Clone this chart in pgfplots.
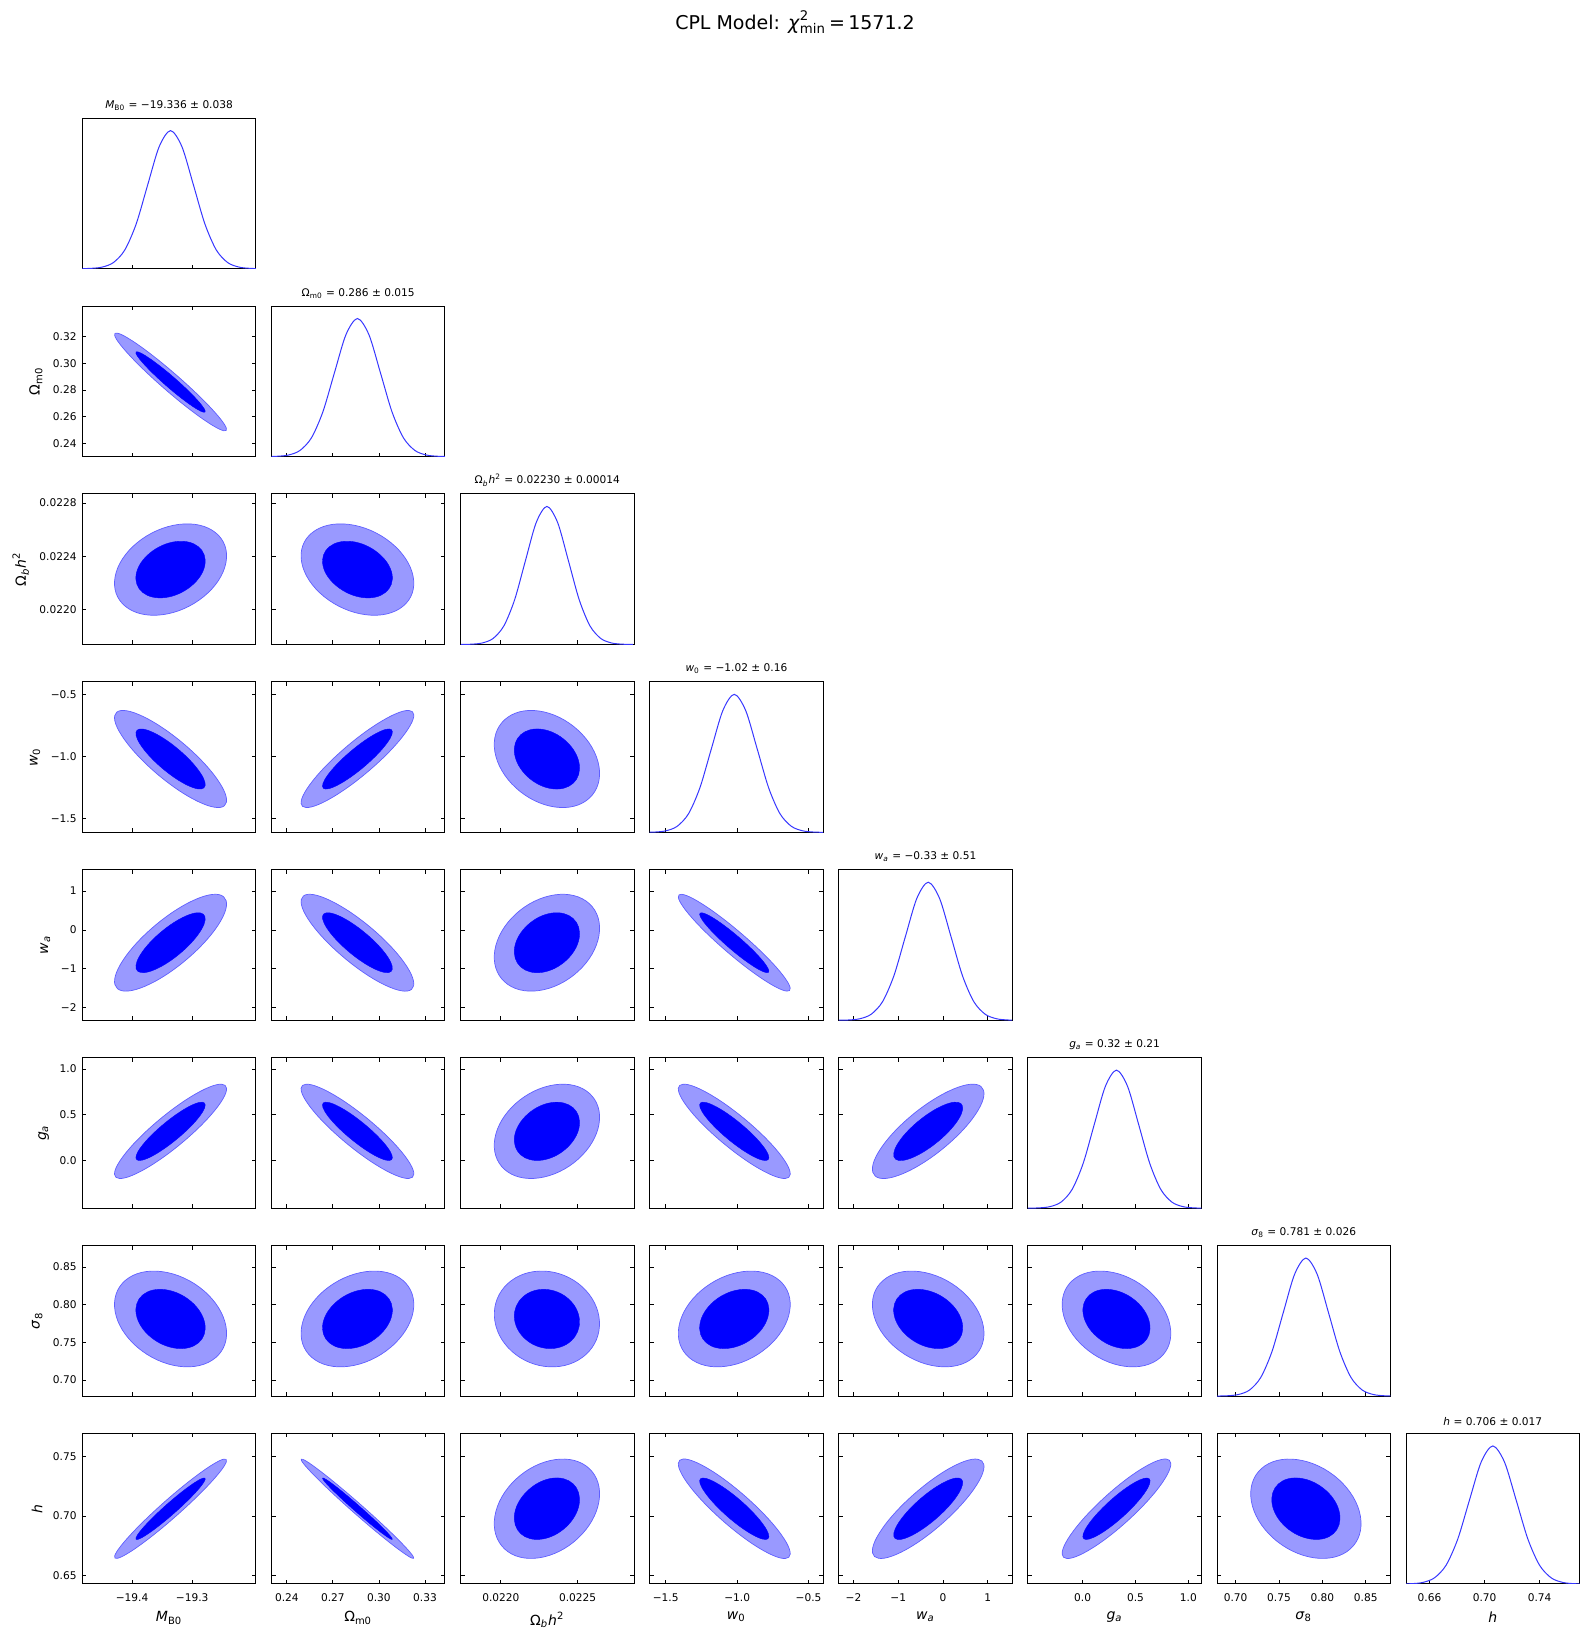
\documentclass[border=0pt]{standalone}
\usepackage{fontspec}
\setmainfont{DejaVu Sans}
\usepackage{pgfplots}
\pgfplotsset{compat=1.18}

\definecolor{outerfill}{RGB}{153,153,255}
\definecolor{outeredge}{RGB}{95,95,255}
\definecolor{innerfill}{RGB}{0,0,255}
\definecolor{curve}{RGB}{55,55,255}

\newcommand\ticksize{\fontsize{5.3}{6.2}\selectfont}
\newcommand\labsize{\fontsize{7}{8}\selectfont}
% parameter names
\newcommand\lM{\textit{M}\textsubscript{B0}}
\newcommand\lOm{Ω\textsubscript{m0}}
\newcommand\lOb{Ω\textsubscript{\textit{b}}\textit{h}\textsuperscript{2}}
\newcommand\lwo{\textit{w}\textsubscript{0}}
\newcommand\lwa{\textit{w}\textsubscript{\textit{a}}}
\newcommand\lga{\textit{g}\textsubscript{\textit{a}}}
\newcommand\lse{\textit{σ}\textsubscript{8}}
\newcommand\lh{\textit{h}}

\pgfplotsset{
  panel/.style={
    scale only axis, width=86.7pt, height=75.25pt, anchor=north west,
    axis line style={line width=0.5pt},
    tick align=inside, major tick length=2pt,
    tick style={black, line width=0.4pt},
    scaled ticks=false,
    xticklabels={}, yticklabels={},
    tick label style={font=\ticksize},
    xticklabel style={yshift=-1.4pt},
    yticklabel style={xshift=0.6pt},
    label style={font=\labsize},
    ylabel shift=-1.6pt, xlabel shift=-2pt,
    title style={font=\ticksize, at={(0.5,1)}, anchor=south, yshift=-5.6pt},
  },
  diag/.style={panel, ymin=0, ymax=1.09, ytick=\empty, xtick pos=left},
  outer/.style={fill=outerfill, draw=outeredge, line width=0.35pt, smooth cycle, tension=0.68},
  inner/.style={fill=innerfill, draw=innerfill, line width=0.2pt, smooth cycle, tension=0.68},
  pdf/.style={draw=curve, line width=0.5pt, smooth},
  % axis ranges per parameter
  xM/.style={xmin=-19.4824, xmax=-19.1944, xtick={-19.4,-19.3}},
  xOm/.style={xmin=0.2300, xmax=0.3430, xtick={0.24,0.27,0.30,0.33}},
  xOb/.style={xmin=0.021738, xmax=0.022867, xtick={0.0220,0.0225}},
  xwo/.style={xmin=-1.612, xmax=-0.398, xtick={-1.5,-1.0,-0.5}},
  xwa/.style={xmin=-2.33, xmax=1.55, xtick={-2,-1,0,1}},
  xga/.style={xmin=-0.518, xmax=1.123, xtick={0,0.5,1}},
  xse/.style={xmin=0.6785, xmax=0.8785, xtick={0.70,0.75,0.80,0.85}},
  xh/.style={xmin=0.643, xmax=0.769, xtick={0.66,0.70,0.74}},
  yOm/.style={ymin=0.2300, ymax=0.3430, ytick={0.24,0.26,0.28,0.30,0.32}},
  yOb/.style={ymin=0.021738, ymax=0.022867, ytick={0.0220,0.0224,0.0228}},
  ywo/.style={ymin=-1.612, ymax=-0.398, ytick={-1.5,-1.0,-0.5}},
  ywa/.style={ymin=-2.33, ymax=1.55, ytick={-2,-1,0,1}},
  yga/.style={ymin=-0.518, ymax=1.123, ytick={0,0.5,1}},
  yse/.style={ymin=0.6785, ymax=0.8785, ytick={0.70,0.75,0.80,0.85}},
  yh/.style={ymin=0.643, ymax=0.769, ytick={0.65,0.70,0.75}},
  % labels on the outer edges
  bM/.style={xticklabels={−19.4,−19.3}, xlabel={\lM}},
  bOm/.style={xticklabels={0.24,0.27,0.30,0.33}, xlabel={\lOm}},
  bOb/.style={xticklabels={0.0220,0.0225}, xlabel={\lOb}},
  bwo/.style={xticklabels={−1.5,−1.0,−0.5}, xlabel={\lwo}},
  bwa/.style={xticklabels={−2,−1,0,1}, xlabel={\lwa}},
  bga/.style={xticklabels={0.0,0.5,1.0}, xlabel={\lga}},
  bse/.style={xticklabels={0.70,0.75,0.80,0.85}, xlabel={\lse}},
  bh/.style={xticklabels={0.66,0.70,0.74}, xlabel={\lh}},
  lOm/.style={yticklabels={0.24,0.26,0.28,0.30,0.32}, ylabel={\lOm}},
  lOb/.style={yticklabels={0.0220,0.0224,0.0228}, ylabel={\lOb}},
  lwo/.style={yticklabels={−1.5,−1.0,−0.5}, ylabel={\lwo}},
  lwa/.style={yticklabels={−2,−1,0,1}, ylabel={\lwa}},
  lga/.style={yticklabels={0.0,0.5,1.0}, ylabel={\lga}},
  lse/.style={yticklabels={0.70,0.75,0.80,0.85}, ylabel={\lse}},
  lh/.style={yticklabels={0.65,0.70,0.75}, ylabel={\lh}},
}

\begin{document}
\begin{tikzpicture}
\useasboundingbox (0,0) rectangle (795pt,818.5pt);
\node[font=\fontsize{9.5}{11}\selectfont] at (397.5pt,807.5pt)
  {CPL Model: \textit{χ}\rlap{\raisebox{0.5pt}{\textsuperscript{2}}}\textsubscript{min}\,=\,1571.2};

% ---------------- row 1
\begin{axis}[diag, at={(41.2pt,759.4pt)}, xM, title={\lM\ = −19.336 ± 0.038}]
\addplot[pdf] coordinates {(-19.488,0.0003) (-19.469,0.0022) (-19.450,0.0111) (-19.431,0.0439) (-19.412,0.1353) (-19.393,0.3247) (-19.374,0.6065) (-19.355,0.8825) (-19.336,1) (-19.317,0.8825) (-19.298,0.6065) (-19.279,0.3247) (-19.260,0.1353) (-19.241,0.0439) (-19.222,0.0111) (-19.203,0.0022) (-19.184,0.0003)};
\end{axis}

% ---------------- row 2
\begin{axis}[panel, at={(41.2pt,665.45pt)}, xM, yOm, lOm]
\addplot[outer] coordinates {(-19.2437,0.2496) (-19.2627,0.2634) (-19.3246,0.2905) (-19.3932,0.3150) (-19.4283,0.3225) (-19.4093,0.3086) (-19.3474,0.2815) (-19.2788,0.2571)};
\addplot[inner] coordinates {(-19.2788,0.2634) (-19.2906,0.2720) (-19.3289,0.2888) (-19.3714,0.3039) (-19.3932,0.3086) (-19.3814,0.3000) (-19.3431,0.2832) (-19.3006,0.2681)};
\end{axis}
\begin{axis}[diag, at={(135.75pt,665.45pt)}, xOm, title={\lOm\ = 0.286 ± 0.015}]
\addplot[pdf] coordinates {(0.226,0.0003) (0.2335,0.0022) (0.241,0.0111) (0.2485,0.0439) (0.256,0.1353) (0.2635,0.3247) (0.271,0.6065) (0.2785,0.8825) (0.286,1) (0.2935,0.8825) (0.301,0.6065) (0.3085,0.3247) (0.316,0.1353) (0.3235,0.0439) (0.331,0.0111) (0.3385,0.0022) (0.346,0.0003)};
\end{axis}

% ---------------- row 3
\begin{axis}[panel, at={(41.2pt,571.5pt)}, xM, yOb, lOb]
\addplot[outer] coordinates {(-19.2610,0.022576) (-19.2440,0.022352) (-19.2810,0.022097) (-19.3501,0.021961) (-19.4110,0.022024) (-19.4280,0.022248) (-19.3910,0.022503) (-19.3219,0.022639)};
\addplot[inner] coordinates {(-19.2896,0.022471) (-19.2791,0.022332) (-19.3020,0.022175) (-19.3447,0.022090) (-19.3824,0.022129) (-19.3929,0.022268) (-19.3700,0.022425) (-19.3273,0.022510)};
\end{axis}
\begin{axis}[panel, at={(135.75pt,571.5pt)}, xOm, yOb]
\addplot[outer] coordinates {(0.3156,0.022024) (0.3223,0.022248) (0.3077,0.022503) (0.2804,0.022639) (0.2564,0.022576) (0.2497,0.022352) (0.2643,0.022097) (0.2916,0.021961)};
\addplot[inner] coordinates {(0.3043,0.022129) (0.3085,0.022268) (0.2994,0.022425) (0.2826,0.022510) (0.2677,0.022471) (0.2635,0.022332) (0.2726,0.022175) (0.2895,0.022090)};
\end{axis}
\begin{axis}[diag, at={(230.3pt,571.5pt)}, xOb, title={\lOb\ = 0.02230 ± 0.00014}]
\addplot[pdf] coordinates {(0.02174,0.0003) (0.02181,0.0022) (0.02188,0.0111) (0.02195,0.0439) (0.02202,0.1353) (0.02209,0.3247) (0.02216,0.6065) (0.02223,0.8825) (0.02230,1) (0.02237,0.8825) (0.02244,0.6065) (0.02251,0.3247) (0.02258,0.1353) (0.02265,0.0439) (0.02272,0.0111) (0.02279,0.0022) (0.02286,0.0003)};
\end{axis}

% ---------------- row 4
\begin{axis}[panel, at={(41.2pt,477.55pt)}, xM, ywo, lwo]
\addplot[outer] coordinates {(-19.2465,-1.3966) (-19.2547,-1.2106) (-19.3105,-0.9128) (-19.3813,-0.6778) (-19.4255,-0.6434) (-19.4173,-0.8294) (-19.3615,-1.1272) (-19.2907,-1.3622)};
\addplot[inner] coordinates {(-19.2806,-1.2531) (-19.2857,-1.1379) (-19.3202,-0.9536) (-19.3640,-0.8082) (-19.3914,-0.7869) (-19.3863,-0.9021) (-19.3518,-1.0864) (-19.3080,-1.2318)};
\end{axis}
\begin{axis}[panel, at={(135.75pt,477.55pt)}, xOm, ywo]
\addplot[outer] coordinates {(0.3218,-0.6382) (0.3171,-0.8120) (0.2942,-1.1075) (0.2665,-1.3518) (0.2502,-1.4018) (0.2549,-1.2280) (0.2778,-0.9325) (0.3055,-0.6882)};
\addplot[inner] coordinates {(0.3082,-0.7837) (0.3053,-0.8912) (0.2911,-1.0742) (0.2739,-1.2254) (0.2638,-1.2563) (0.2667,-1.1488) (0.2809,-0.9658) (0.2981,-0.8146)};
\end{axis}
\begin{axis}[panel, at={(230.3pt,477.55pt)}, xOb, ywo]
\addplot[outer] coordinates {(0.022576,-1.3358) (0.022639,-1.0795) (0.022503,-0.7883) (0.022248,-0.6328) (0.022024,-0.7042) (0.021961,-0.9605) (0.022097,-1.2517) (0.022352,-1.4072)};
\addplot[inner] coordinates {(0.022471,-1.2154) (0.022510,-1.0568) (0.022425,-0.8766) (0.022268,-0.7805) (0.022129,-0.8246) (0.022090,-0.9832) (0.022175,-1.1634) (0.022332,-1.2595)};
\end{axis}
\begin{axis}[diag, at={(324.85pt,477.55pt)}, xwo, title={\lwo\ = −1.02 ± 0.16}]
\addplot[pdf] coordinates {(-1.66,0.0003) (-1.58,0.0022) (-1.50,0.0111) (-1.42,0.0439) (-1.34,0.1353) (-1.26,0.3247) (-1.18,0.6065) (-1.10,0.8825) (-1.02,1) (-0.94,0.8825) (-0.86,0.6065) (-0.78,0.3247) (-0.70,0.1353) (-0.62,0.0439) (-0.54,0.0111) (-0.46,0.0022) (-0.38,0.0003)};
\end{axis}

% ---------------- row 5
\begin{axis}[panel, at={(41.2pt,383.6pt)}, xM, ywa, lwa]
\addplot[outer] coordinates {(-19.2478,0.854) (-19.2528,0.229) (-19.3066,-0.725) (-19.3776,-1.447) (-19.4242,-1.514) (-19.4192,-0.889) (-19.3654,0.065) (-19.2944,0.787)};
\addplot[inner] coordinates {(-19.2814,0.403) (-19.2845,0.016) (-19.3178,-0.574) (-19.3618,-1.021) (-19.3906,-1.063) (-19.3875,-0.676) (-19.3542,-0.086) (-19.3102,0.361)};
\end{axis}
\begin{axis}[panel, at={(135.75pt,383.6pt)}, xOm, ywa]
\addplot[outer] coordinates {(0.3213,-1.531) (0.3181,-0.937) (0.2961,0.012) (0.2681,0.761) (0.2507,0.871) (0.2539,0.277) (0.2760,-0.672) (0.3039,-1.421)};
\addplot[inner] coordinates {(0.3079,-1.073) (0.3059,-0.706) (0.2922,-0.118) (0.2749,0.345) (0.2641,0.413) (0.2661,0.046) (0.2798,-0.542) (0.2971,-1.005)};
\end{axis}
\begin{axis}[panel, at={(230.3pt,383.6pt)}, xOb, ywa]
\addplot[outer] coordinates {(0.022576,0.677) (0.022639,-0.140) (0.022503,-1.069) (0.022248,-1.564) (0.022024,-1.337) (0.021961,-0.520) (0.022097,0.409) (0.022352,0.904)};
\addplot[inner] coordinates {(0.022471,0.293) (0.022510,-0.213) (0.022425,-0.787) (0.022268,-1.094) (0.022129,-0.953) (0.022090,-0.447) (0.022175,0.127) (0.022332,0.434)};
\end{axis}
\begin{axis}[panel, at={(324.85pt,383.6pt)}, xwo, ywa]
\addplot[outer] coordinates {(-0.6333,-1.563) (-0.7027,-1.062) (-0.9581,-0.133) (-1.2498,0.681) (-1.4067,0.903) (-1.3373,0.402) (-1.0819,-0.527) (-0.7902,-1.341)};
\addplot[inner] coordinates {(-0.7806,-1.093) (-0.8237,-0.783) (-0.9816,-0.208) (-1.1621,0.296) (-1.2594,0.433) (-1.2163,0.123) (-1.0584,-0.452) (-0.8779,-0.956)};
\end{axis}
\begin{axis}[diag, at={(419.4pt,383.6pt)}, xwa, title={\lwa\ = −0.33 ± 0.51}]
\addplot[pdf] coordinates {(-2.37,0.0003) (-2.115,0.0022) (-1.86,0.0111) (-1.605,0.0439) (-1.35,0.1353) (-1.095,0.3247) (-0.84,0.6065) (-0.585,0.8825) (-0.33,1) (-0.075,0.8825) (0.18,0.6065) (0.435,0.3247) (0.69,0.1353) (0.945,0.0439) (1.20,0.0111) (1.455,0.0022) (1.71,0.0003)};
\end{axis}

% ---------------- row 6
\begin{axis}[panel, at={(41.2pt,289.65pt)}, xM, yga, lga]
\addplot[outer] coordinates {(-19.2453,0.821) (-19.2572,0.593) (-19.3152,0.205) (-19.3854,-0.116) (-19.4267,-0.181) (-19.4148,0.047) (-19.3568,0.435) (-19.2866,0.756)};
\addplot[inner] coordinates {(-19.2799,0.630) (-19.2872,0.489) (-19.3231,0.249) (-19.3666,0.050) (-19.3921,0.010) (-19.3848,0.151) (-19.3489,0.391) (-19.3054,0.590)};
\end{axis}
\begin{axis}[panel, at={(135.75pt,289.65pt)}, xOm, yga]
\addplot[outer] coordinates {(0.3218,-0.181) (0.3171,0.047) (0.2942,0.435) (0.2665,0.756) (0.2502,0.821) (0.2549,0.593) (0.2778,0.205) (0.3055,-0.116)};
\addplot[inner] coordinates {(0.3082,0.010) (0.3053,0.151) (0.2911,0.391) (0.2739,0.590) (0.2638,0.630) (0.2667,0.489) (0.2809,0.249) (0.2981,0.050)};
\end{axis}
\begin{axis}[panel, at={(230.3pt,289.65pt)}, xOb, yga]
\addplot[outer] coordinates {(0.022576,0.735) (0.022639,0.398) (0.022503,0.016) (0.022248,-0.188) (0.022024,-0.095) (0.021961,0.242) (0.022097,0.624) (0.022352,0.828)};
\addplot[inner] coordinates {(0.022471,0.576) (0.022510,0.368) (0.022425,0.132) (0.022268,0.006) (0.022129,0.064) (0.022090,0.272) (0.022175,0.508) (0.022332,0.634)};
\end{axis}
\begin{axis}[panel, at={(324.85pt,289.65pt)}, xwo, yga]
\addplot[outer] coordinates {(-0.6382,-0.181) (-0.6882,0.047) (-0.9325,0.435) (-1.2280,0.756) (-1.4018,0.821) (-1.3518,0.593) (-1.1075,0.205) (-0.8120,-0.116)};
\addplot[inner] coordinates {(-0.7837,0.010) (-0.8146,0.151) (-0.9658,0.391) (-1.1488,0.590) (-1.2563,0.630) (-1.2254,0.489) (-1.0742,0.249) (-0.8912,0.050)};
\end{axis}
\begin{axis}[panel, at={(419.4pt,289.65pt)}, xwa, yga]
\addplot[outer] coordinates {(0.854,0.808) (0.787,0.550) (0.065,0.158) (-0.889,-0.140) (-1.514,-0.168) (-1.447,0.090) (-0.725,0.483) (0.229,0.780)};
\addplot[inner] coordinates {(0.403,0.622) (0.361,0.462) (-0.086,0.219) (-0.676,0.035) (-1.063,0.018) (-1.021,0.178) (-0.574,0.421) (0.016,0.605)};
\end{axis}
\begin{axis}[diag, at={(513.95pt,289.65pt)}, xga, title={\lga\ = 0.32 ± 0.21}]
\addplot[pdf] coordinates {(-0.52,0.0003) (-0.415,0.0022) (-0.31,0.0111) (-0.205,0.0439) (-0.10,0.1353) (0.005,0.3247) (0.11,0.6065) (0.215,0.8825) (0.32,1) (0.425,0.8825) (0.53,0.6065) (0.635,0.3247) (0.74,0.1353) (0.845,0.0439) (0.95,0.0111) (1.055,0.0022) (1.16,0.0003)};
\end{axis}

% ---------------- row 7
\begin{axis}[panel, at={(41.2pt,195.7pt)}, xM, yse, lse]
\addplot[outer] coordinates {(-19.2610,0.7297) (-19.2440,0.7713) (-19.2810,0.8187) (-19.3501,0.8439) (-19.4110,0.8323) (-19.4280,0.7907) (-19.3910,0.7434) (-19.3219,0.7181)};
\addplot[inner] coordinates {(-19.2896,0.7493) (-19.2791,0.7750) (-19.3020,0.8043) (-19.3447,0.8199) (-19.3824,0.8128) (-19.3929,0.7870) (-19.3700,0.7577) (-19.3273,0.7421)};
\end{axis}
\begin{axis}[panel, at={(135.75pt,195.7pt)}, xOm, yse]
\addplot[outer] coordinates {(0.3156,0.8323) (0.3223,0.7907) (0.3077,0.7434) (0.2804,0.7181) (0.2564,0.7297) (0.2497,0.7713) (0.2643,0.8187) (0.2916,0.8439)};
\addplot[inner] coordinates {(0.3043,0.8128) (0.3085,0.7870) (0.2994,0.7577) (0.2826,0.7421) (0.2677,0.7493) (0.2635,0.7750) (0.2726,0.8043) (0.2895,0.8199)};
\end{axis}
\begin{axis}[panel, at={(230.3pt,195.7pt)}, xOb, yse]
\addplot[outer] coordinates {(0.022554,0.7338) (0.022642,0.7778) (0.022530,0.8237) (0.022283,0.8446) (0.022046,0.8282) (0.021958,0.7842) (0.022070,0.7383) (0.022317,0.7174)};
\addplot[inner] coordinates {(0.022457,0.7518) (0.022512,0.7790) (0.022442,0.8074) (0.022289,0.8203) (0.022143,0.8102) (0.022088,0.7830) (0.022158,0.7546) (0.022311,0.7417)};
\end{axis}
\begin{axis}[panel, at={(324.85pt,195.7pt)}, xwo, yse]
\addplot[outer] coordinates {(-0.7042,0.8323) (-0.6328,0.7907) (-0.7883,0.7434) (-1.0795,0.7181) (-1.3358,0.7297) (-1.4072,0.7713) (-1.2517,0.8187) (-0.9605,0.8439)};
\addplot[inner] coordinates {(-0.8246,0.8128) (-0.7805,0.7870) (-0.8766,0.7577) (-1.0568,0.7421) (-1.2154,0.7493) (-1.2595,0.7750) (-1.1634,0.8043) (-0.9832,0.8199)};
\end{axis}
\begin{axis}[panel, at={(419.4pt,195.7pt)}, xwa, yse]
\addplot[outer] coordinates {(0.677,0.7297) (0.904,0.7713) (0.409,0.8187) (-0.520,0.8439) (-1.337,0.8323) (-1.564,0.7907) (-1.069,0.7434) (-0.140,0.7181)};
\addplot[inner] coordinates {(0.293,0.7493) (0.434,0.7750) (0.127,0.8043) (-0.447,0.8199) (-0.953,0.8128) (-1.094,0.7870) (-0.787,0.7577) (-0.213,0.7421)};
\end{axis}
\begin{axis}[panel, at={(513.95pt,195.7pt)}, xga, yse]
\addplot[outer] coordinates {(0.735,0.7297) (0.828,0.7713) (0.624,0.8187) (0.242,0.8439) (-0.095,0.8323) (-0.188,0.7907) (0.016,0.7434) (0.398,0.7181)};
\addplot[inner] coordinates {(0.576,0.7493) (0.634,0.7750) (0.508,0.8043) (0.272,0.8199) (0.064,0.8128) (0.006,0.7870) (0.132,0.7577) (0.368,0.7421)};
\end{axis}
\begin{axis}[diag, at={(608.5pt,195.7pt)}, xse, title={\lse\ = 0.781 ± 0.026}]
\addplot[pdf] coordinates {(0.677,0.0003) (0.690,0.0022) (0.703,0.0111) (0.716,0.0439) (0.729,0.1353) (0.742,0.3247) (0.755,0.6065) (0.768,0.8825) (0.781,1) (0.794,0.8825) (0.807,0.6065) (0.820,0.3247) (0.833,0.1353) (0.846,0.0439) (0.859,0.0111) (0.872,0.0022) (0.885,0.0003)};
\end{axis}

% ---------------- row 8
\begin{axis}[panel, at={(41.2pt,101.75pt)}, xM, yh, lh, bM]
\addplot[outer] coordinates {(-19.2437,0.7473) (-19.2627,0.7316) (-19.3246,0.7009) (-19.3932,0.6732) (-19.4283,0.6647) (-19.4093,0.6804) (-19.3474,0.7111) (-19.2788,0.7388)};
\addplot[inner] coordinates {(-19.2788,0.7316) (-19.2906,0.7218) (-19.3289,0.7028) (-19.3714,0.6857) (-19.3932,0.6804) (-19.3814,0.6902) (-19.3431,0.7092) (-19.3006,0.7263)};
\end{axis}
\begin{axis}[panel, at={(135.75pt,101.75pt)}, xOm, yh, bOm]
\addplot[outer] coordinates {(0.3226,0.6645) (0.3137,0.6787) (0.2886,0.7089) (0.2619,0.7374) (0.2494,0.7475) (0.2583,0.7333) (0.2834,0.7031) (0.3101,0.6746)};
\addplot[inner] coordinates {(0.3087,0.6803) (0.3032,0.6891) (0.2876,0.7078) (0.2711,0.7255) (0.2633,0.7317) (0.2688,0.7229) (0.2844,0.7042) (0.3009,0.6866)};
\end{axis}
\begin{axis}[panel, at={(230.3pt,101.75pt)}, xOb, yh, bOb]
\addplot[outer] coordinates {(0.022576,0.7396) (0.022639,0.7123) (0.022503,0.6814) (0.022248,0.6649) (0.022024,0.6724) (0.021961,0.6997) (0.022097,0.7306) (0.022352,0.7471)};
\addplot[inner] coordinates {(0.022471,0.7268) (0.022510,0.7099) (0.022425,0.6908) (0.022268,0.6806) (0.022129,0.6852) (0.022090,0.7021) (0.022175,0.7212) (0.022332,0.7315)};
\end{axis}
\begin{axis}[panel, at={(324.85pt,101.75pt)}, xwo, yh, bwo]
\addplot[outer] coordinates {(-0.6382,0.6654) (-0.6882,0.6839) (-0.9325,0.7153) (-1.2280,0.7413) (-1.4018,0.7466) (-1.3518,0.7281) (-1.1075,0.6967) (-0.8120,0.6707)};
\addplot[inner] coordinates {(-0.7837,0.6809) (-0.8146,0.6923) (-0.9658,0.7118) (-1.1488,0.7278) (-1.2563,0.7311) (-1.2254,0.7197) (-1.0742,0.7002) (-0.8912,0.6842)};
\end{axis}
\begin{axis}[panel, at={(419.4pt,101.75pt)}, xwa, yh, bwa]
\addplot[outer] coordinates {(0.871,0.7460) (0.761,0.7263) (0.012,0.6946) (-0.937,0.6696) (-1.531,0.6660) (-1.421,0.6858) (-0.672,0.7174) (0.277,0.7424)};
\addplot[inner] coordinates {(0.413,0.7308) (0.345,0.7185) (-0.118,0.6989) (-0.706,0.6835) (-1.073,0.6812) (-1.005,0.6935) (-0.542,0.7131) (0.046,0.7285)};
\end{axis}
\begin{axis}[panel, at={(513.95pt,101.75pt)}, xga, yh, bga]
\addplot[outer] coordinates {(0.821,0.7466) (0.756,0.7281) (0.435,0.6967) (0.047,0.6707) (-0.181,0.6654) (-0.116,0.6839) (0.205,0.7153) (0.593,0.7413)};
\addplot[inner] coordinates {(0.630,0.7311) (0.590,0.7197) (0.391,0.7002) (0.151,0.6842) (0.010,0.6809) (0.050,0.6923) (0.249,0.7118) (0.489,0.7278)};
\end{axis}
\begin{axis}[panel, at={(608.5pt,101.75pt)}, xse, yh, bse]
\addplot[outer] coordinates {(0.8323,0.6724) (0.8439,0.6997) (0.8187,0.7306) (0.7713,0.7471) (0.7297,0.7396) (0.7181,0.7123) (0.7434,0.6814) (0.7907,0.6649)};
\addplot[inner] coordinates {(0.8128,0.6852) (0.8199,0.7021) (0.8043,0.7212) (0.7750,0.7315) (0.7493,0.7268) (0.7421,0.7099) (0.7577,0.6908) (0.7870,0.6806)};
\end{axis}
\begin{axis}[diag, at={(703.05pt,101.75pt)}, xh, bh, title={\lh\ = 0.706 ± 0.017}]
\addplot[pdf] coordinates {(0.638,0.0003) (0.6465,0.0022) (0.655,0.0111) (0.6635,0.0439) (0.672,0.1353) (0.6805,0.3247) (0.689,0.6065) (0.6975,0.8825) (0.706,1) (0.7145,0.8825) (0.723,0.6065) (0.7315,0.3247) (0.740,0.1353) (0.7485,0.0439) (0.757,0.0111) (0.7655,0.0022) (0.774,0.0003)};
\end{axis}
\end{tikzpicture}
\end{document}
